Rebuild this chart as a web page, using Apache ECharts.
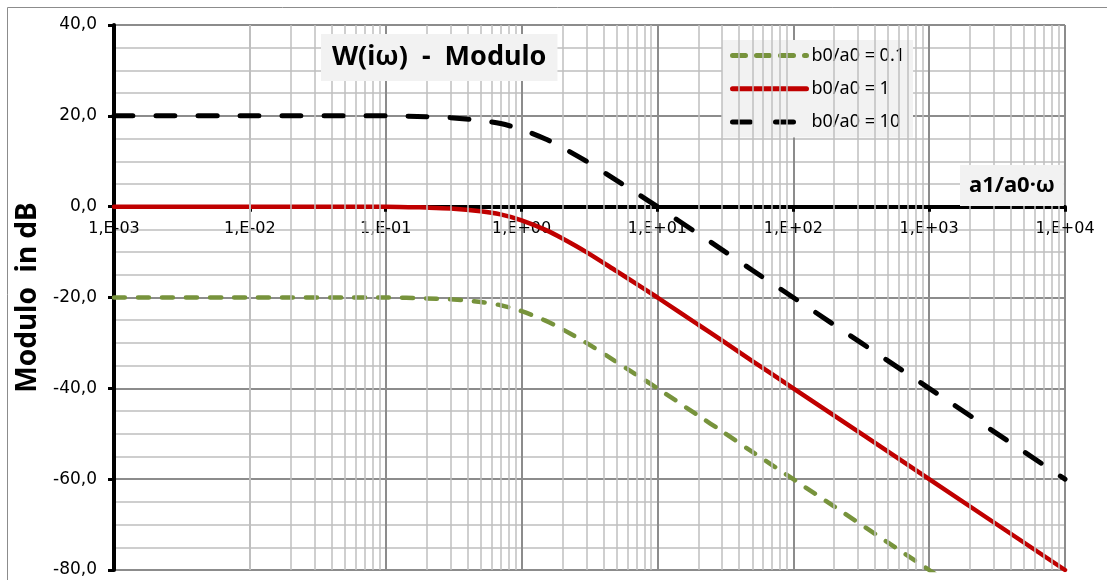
<!DOCTYPE html>
<html>
<head>
<meta charset="utf-8">
<script src="https://cdn.jsdelivr.net/npm/echarts@6/dist/echarts.min.js"></script>
<style>
  html, body { margin: 0; padding: 0; background: #fff; }
  #chart { width: 1107px; height: 580px; }
</style>
</head>
<body>
<div id="chart"></div>
<script>
// a1/a0·ω (log axis)
var omega = [0.001, 0.01, 0.1, 0.2, 0.3, 0.5, 0.7, 1, 1.5, 2, 3, 5, 7, 10, 20, 30, 50, 100, 1000, 10000]
// Modulo in dB
var mod01 = [-20.0, -20.0, -20.0, -20.2, -20.4, -21.0, -21.7, -23.0, -25.1, -27.0, -30.0, -34.2, -37.0, -40.0, -46.0, -49.5, -54.0, -60.0, -80.0, -100.0]
var mod1 = [0.0, 0.0, 0.0, -0.2, -0.4, -1.0, -1.7, -3.0, -5.1, -7.0, -10.0, -14.2, -17.0, -20.0, -26.0, -29.5, -34.0, -40.0, -60.0, -80.0]
var mod10 = [20.0, 20.0, 20.0, 19.8, 19.6, 19.0, 18.3, 17.0, 14.9, 13.0, 10.0, 5.8, 3.0, 0.0, -6.0, -9.5, -14.0, -20.0, -40.0, -60.0]
var seriesNames = ['b0/a0 = 0.1', 'b0/a0 = 1', 'b0/a0 = 10']
var decades = [-3, -2, -1, 0, 1, 2, 3, 4]
var yMin = -80
var yMax = 40

function pairs (ys) {
  return omega.map(function (x, i) { return [x, ys[i]] })
}

// minor log grid lines 2..9 in each decade
var minorLines = []
decades.slice(0, -1).forEach(function (d) {
  for (var k = 2; k <= 9; k++) {
    minorLines.push({ xAxis: k * Math.pow(10, d) })
  }
})

var W = 1107, H = 580
var gridTop = 25, gridBottom = 10
var plotH = H - gridTop - gridBottom
// x axis sits on y = 0, labels right under it
var xOffset = -plotH * (0 - yMin) / (yMax - yMin)

var chart = echarts.init(document.getElementById('chart'))
var font = 'Noto Sans'
var tickFont = 'DejaVu Sans'

chart.setOption({
  animation: false,
  textStyle: { fontFamily: font },
  graphic: [{
    type: 'rect',
    shape: { x: 7.5, y: 7.5, width: 1120, height: 600 },
    style: { fill: 'none', stroke: '#8c8c8c', lineWidth: 1 },
    z: -1
  }],
  title: [{
    text: 'W(iω)  -  Modulo',
    left: 321,
    top: 34,
    padding: [10, 11, 10, 11],
    backgroundColor: '#f2f2f2',
    textStyle: { fontFamily: font, fontSize: 27, fontWeight: 'bold', color: '#000' }
  }, {
    text: 'a1/a0·ω',
    left: 960,
    top: 165,
    padding: [10, 9, 9, 9],
    backgroundColor: '#f2f2f2',
    textStyle: { fontFamily: font, fontSize: 22, fontWeight: 'bold', color: '#000' }
  }],
  legend: {
    orient: 'vertical',
    left: 722,
    top: 40,
    padding: [6, 8, 6, 8],
    backgroundColor: '#f2f2f2',
    itemWidth: 74,
    itemHeight: 24,
    itemGap: 14,
    data: [
      { name: seriesNames[0], lineStyle: { type: [13, 11] } },
      { name: seriesNames[1] },
      { name: seriesNames[2], lineStyle: { type: [18, 25] } }
    ],
    itemStyle: { opacity: 0 },
    lineStyle: { width: 5 },
    textStyle: { fontFamily: font, fontSize: 18, color: '#000' }
  },
  grid: {
    left: 114,
    right: 42,
    top: gridTop,
    bottom: gridBottom,
    containLabel: false,
    outerBoundsMode: 'none'
  },
  xAxis: {
    type: 'log',
    logBase: 10,
    min: 0.001,
    max: 10000,
    offset: xOffset,
    axisLine: {
      onZero: false,
      lineStyle: { color: '#000', width: 4 }
    },
    axisTick: { show: true, length: 5, lineStyle: { color: '#000', width: 3 } },
    axisLabel: {
      margin: 14,
      color: '#000',
      fontSize: 16,
      fontFamily: tickFont,
      showMinLabel: true,
      showMaxLabel: true,
      alignMinLabel: 'center',
      alignMaxLabel: 'center',
      formatter: function (v) {
        var e = Math.round(Math.log10(v))
        var s = e < 0 ? '-' : '+'
        var a = Math.abs(e)
        return '1,E' + s + (a < 10 ? '0' : '') + a
      }
    },
    splitLine: { show: true, lineStyle: { color: '#8c8c8c', width: 2 } }
  },
  yAxis: {
    type: 'value',
    min: yMin,
    max: yMax,
    interval: 20,
    name: 'Modulo  in dB',
    nameLocation: 'middle',
    nameRotate: 90,
    nameGap: 64,
    nameTextStyle: { fontFamily: font, fontSize: 28, fontWeight: 'bold', color: '#000' },
    axisLine: { show: true, onZero: false, lineStyle: { color: '#000', width: 4 } },
    axisTick: { show: true, length: 6, lineStyle: { color: '#000', width: 3 } },
    axisLabel: {
      margin: 17,
      color: '#000',
      fontSize: 17,
      fontFamily: tickFont,
      formatter: function (v) { return v.toFixed(1).replace('.', ',') }
    },
    splitLine: { show: true, lineStyle: { color: '#8c8c8c', width: 2 } },
    minorTick: { show: false, splitNumber: 4 },
    minorSplitLine: { show: true, lineStyle: { color: '#bfbfbf', width: 1.5 } }
  },
  series: [{
    name: 'grid',
    type: 'line',
    data: [],
    z: 1,
    silent: true,
    markLine: {
      silent: true,
      symbol: ['none', 'none'],
      label: { show: false },
      animation: false,
      lineStyle: { color: '#bfbfbf', width: 1.5, type: 'solid' },
      data: minorLines
    }
  }, {
    name: seriesNames[0],
    type: 'line',
    data: pairs(mod01),
    smooth: 0.3,
    symbol: 'none',
    clip: true,
    z: 3,
    itemStyle: { color: '#77933c' },
    lineStyle: { color: '#77933c', width: 4.5, type: [11, 13], cap: 'round' }
  }, {
    name: seriesNames[1],
    type: 'line',
    data: pairs(mod1),
    smooth: 0.3,
    symbol: 'none',
    clip: true,
    z: 4,
    itemStyle: { color: '#c00000' },
    lineStyle: { color: '#c00000', width: 4.5, type: 'solid', cap: 'round' }
  }, {
    name: seriesNames[2],
    type: 'line',
    data: pairs(mod10),
    smooth: 0.3,
    symbol: 'none',
    clip: true,
    z: 5,
    itemStyle: { color: '#000' },
    lineStyle: { color: '#000', width: 5, type: [19, 23], cap: 'round' }
  }]
})
</script>
</body>
</html>
